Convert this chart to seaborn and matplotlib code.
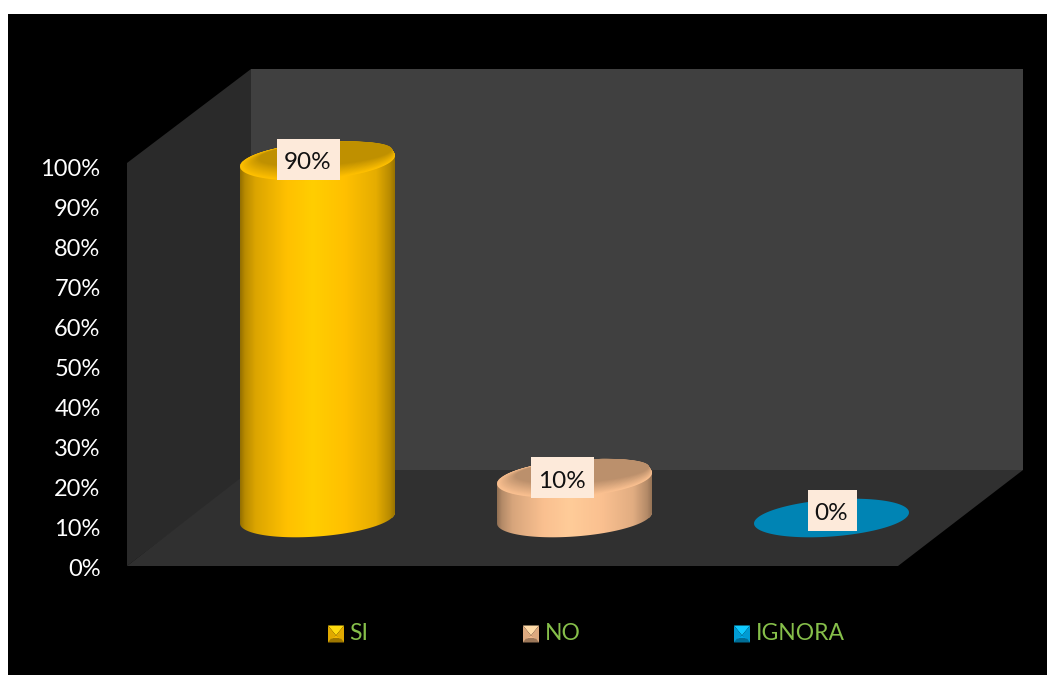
import numpy as np
import pandas as pd
import matplotlib
matplotlib.use("Agg")
import matplotlib.pyplot as plt
from matplotlib.colors import to_rgb
from matplotlib.patches import Polygon, Rectangle
import seaborn as sns

# Survey answers and their shares (percent)
categories = ["SI", "NO", "IGNORA"]
values = [90, 10, 0]
colors = ["#FFC000", "#FAC090", "#00B0F0"]
highlights = ["#FFCE00", "#FFCC99", "#00B0F0"]
y_ticks = list(range(0, 101, 10))

W, H = 1047, 675
sns.set_theme(style="white")
plt.rcParams["font.family"] = ["Lato", "DejaVu Sans"]

fig = plt.figure(figsize=(W / 100, H / 100), dpi=100, facecolor="white")


def axes_from_pixels(left, top, right, bottom, **kw):
    """Add axes placed by pixel edges, measured from the top-left corner."""
    return fig.add_axes([left / W, 1 - bottom / H, (right - left) / W, (bottom - top) / H], **kw)


# Black panel and the three faces of the 3D box
scene = axes_from_pixels(0, 0, W, H, zorder=0)
scene.set_xlim(0, W)
scene.set_ylim(H, 0)
scene.axis("off")
scene.add_patch(Rectangle((8, 14), W - 8, H - 14, fc="black", ec="none"))
scene.add_patch(Polygon([(127, 566), (127, 163), (251, 69), (251, 472)], fc="#2A2A2A", ec="none"))
scene.add_patch(Polygon([(251, 69), (1023, 69), (1023, 470), (251, 470)], fc="#404040", ec="none"))
scene.add_patch(Polygon([(127, 566), (251, 470), (1023, 470), (898, 566)], fc="#303030", ec="none"))

# Percentage axis on the front edge of the left wall
axis_ax = axes_from_pixels(127, 70, 1023, 567, zorder=1)
axis_ax.patch.set_visible(False)
axis_ax.set_ylim(0, 497 / 4)
axis_ax.set_xticks([])
axis_ax.set_yticks(y_ticks)
axis_ax.set_yticklabels([f"{t}%" for t in y_ticks], color="white", fontsize=17)
axis_ax.tick_params(axis="y", length=0, pad=19)
sns.despine(ax=axis_ax, left=True, bottom=True)

# Cylinders: the bars stand on the middle of the floor
scale = 3.967
spacing = 257
bar_ax = axes_from_pixels(127, 69, 1023, 566, zorder=2)
bar_ax.patch.set_visible(False)
data = pd.DataFrame({"answer": categories, "share": values})
sns.barplot(data=data, x="answer", y="share", hue="answer", palette=colors, saturation=1,
            width=0.603, legend=False, linewidth=0, ax=bar_ax)
x0 = (317.5 - 127) / spacing
bar_ax.axis("off")

TILT = 5.5 / scale       # rise of the ellipse towards its right end
MINOR = 18.5 / scale     # half height of the ellipse
LABEL_SHIFT = [(-9, 1.5), (-12, 0.8), (1, 7.5)]  # pixel offset of each value box from its lid
LABEL_WIDTH = [63, 63, 49]                       # pixel width of each value box
LABEL_HEIGHT = 41


def ellipse(cx, cy, half_w, sx=1.0, sy=1.0, t0=0.0, t1=2 * np.pi):
    t = np.linspace(t0, t1, 160)
    return np.column_stack([cx + sx * half_w * np.cos(t),
                            cy + sy * MINOR * np.sin(t) + sx * TILT * np.cos(t)])


def side_strip(base, light):
    """Horizontal metallic shading: dark edges, base colour, light centre."""
    stops = np.array([0, 0.03, 0.10, 0.30, 0.47, 0.68, 0.88, 0.97, 1])
    ramp = [base * 0.58, base * 0.72, base * 0.86, base, light, base, base * 0.90, base * 0.72, base * 0.6]
    pos = np.linspace(0, 1, 256)
    rgb = np.column_stack([np.interp(pos, stops, [c[i] for c in ramp]) for i in range(3)])
    return rgb[None, :, :]


for bar, value, color, light, shift, box_w in zip(bar_ax.patches, values, colors, highlights,
                                                  LABEL_SHIFT, LABEL_WIDTH):
    half_w = bar.get_width() / 2
    cx = bar.get_x() + half_w
    base = np.array(to_rgb(color))
    top_color = base * 0.75

    if value > 0:
        outline = Polygon(np.vstack([ellipse(cx, 0, half_w, t0=np.pi, t1=2 * np.pi),
                                     ellipse(cx, value, half_w, t0=0, t1=np.pi)]),
                          transform=bar_ax.transData, fc="none", ec="none")
        bar_ax.add_patch(outline)
        bar.set_clip_path(outline)
        img = bar_ax.imshow(side_strip(base, np.array(to_rgb(light))), aspect="auto", zorder=3,
                            interpolation="bilinear",
                            extent=(cx - half_w, cx + half_w, -MINOR - TILT, value + MINOR + TILT))
        img.set_clip_path(outline)
        # Lid: bevel kept to the front and left, fading into the darker top
        for mix in np.linspace(0, 1, 16):
            sx, sy = 1 - 0.14 * mix, 1 - 0.38 * mix
            lid = ellipse(cx + (1 - sx) * half_w * 0.7, value + (1 - sy) * MINOR, half_w, sx, sy)
            fc = base * (1 - mix) + top_color * mix
            bar_ax.add_patch(Polygon(lid, fc=fc, ec="none", zorder=4))
    else:
        bar_ax.add_patch(Polygon(ellipse(cx, value, half_w), fc=top_color, ec="none", zorder=4))

    # Value label in a pale box over the lid
    lx = cx + shift[0] / spacing
    ly = value + shift[1] / scale
    bw, bh = box_w / spacing, LABEL_HEIGHT / scale
    bar_ax.add_patch(Rectangle((lx - bw / 2, ly - bh / 2), bw, bh, fc="#FDEADA", ec="none", zorder=5))
    bar_ax.text(lx - 1 / spacing, ly - 10 / scale, f"{value}%", ha="center", va="baseline",
                fontsize=17.5, color="#111111", zorder=6)

bar_ax.set_xlim(-x0, -x0 + 896 / spacing)
bar_ax.set_ylim(-(566 - 518) / scale, (518 - 69) / scale)

# Legend row with bevelled square keys
key_x = [328, 523, 734]
text_x = [349, 545, 756]
KEY, Y0 = 16, 625.5
for name, color, kx, tx in zip(categories, colors, key_x, text_x):
    c = np.array(to_rgb(color))
    x1, y1 = kx + KEY, Y0 + KEY + 1
    mid = (kx + KEY / 2, Y0 + KEY * 0.62)
    band = y1 - 4
    faces = [([(kx, Y0), (x1, Y0), mid], np.clip(c * 1.06 + 0.06, 0, 1)),
             ([(x1, Y0), (x1, y1), mid], c * 0.88),
             ([(kx, Y0), (kx, y1), mid], c * 0.88),
             ([(kx, y1), (x1, y1), (x1 - 3, band), (kx + 3, band)], c * 0.62),
             ([(kx + 3, band), (x1 - 3, band), mid], c * 0.95)]
    for pts, fc in faces:
        scene.add_patch(Polygon(pts, fc=fc, ec="none"))
    scene.text(tx, Y0 + KEY / 2 - 0.5, name, color="#86BF4A", fontsize=16.5, ha="left", va="center")

fig.savefig("out.png", dpi=100, facecolor="white")
